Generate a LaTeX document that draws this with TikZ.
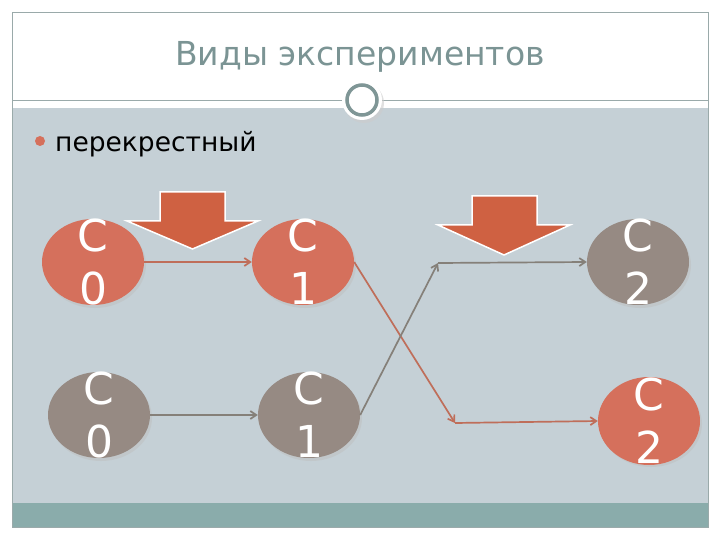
\documentclass[tikz,border=0pt]{standalone}
\usepackage{fontspec}
\setmainfont{DejaVu Sans}
\usetikzlibrary{shapes.geometric,arrows.meta}
\definecolor{orEll}{HTML}{D5705C}
\definecolor{grEll}{HTML}{968A83}
\definecolor{blk}{HTML}{CF6142}
\definecolor{orLine}{HTML}{BF6E5A}
\definecolor{grLine}{HTML}{858079}
\definecolor{panel}{HTML}{C5D0D6}
\definecolor{teal}{HTML}{8AACAB}
\definecolor{titlec}{HTML}{7B9494}
\definecolor{framec}{HTML}{9AAAAA}
\definecolor{ringc}{HTML}{7F9696}
\tikzset{
  cnode/.style={ellipse, minimum width=102pt, minimum height=86pt, inner sep=0pt},
  clabel/.style={text=white, font=\fontsize{44}{53}\selectfont, align=center, inner sep=0pt},
  oline/.style={draw=orLine, line width=1.7pt, -{Straight Barb[length=6pt,width=8pt]}},
  gline/.style={draw=grLine, line width=1.7pt, -{Straight Barb[length=6pt,width=8pt]}},
  blockarrow/.style={fill=blk, draw=white, line width=1.5pt, line join=miter},
  shadowed/.style={fill=black!25, opacity=0.5}
}
\begin{document}
\begin{tikzpicture}[x=1pt,y=-1pt]
\useasboundingbox (0,0) rectangle (720,540);
\fill[white] (0,0) rectangle (720,540);
% panel and bottom bar
\fill[panel] (12,108) rectangle (708,503);
\fill[teal] (12,503) rectangle (708,527);
% frame
\draw[framec, line width=0.8pt] (12,12) rectangle (708,527);
\draw[framec, line width=0.8pt] (12,100) -- (708,100);
% title
\node[text=titlec, font=\fontsize{33}{40}\selectfont] (title) at (360,57) {Виды экспериментов};
% ring
\fill[black!20, opacity=0.6] (364,103) circle (20);
\fill[white] (362,100) circle (20);
\draw[ringc, line width=3.5pt, fill=white] (362,100) circle (15);
% bullet
\fill[orEll] (40,141) circle (5);
\node[anchor=base west, font=\fontsize{26.5}{32}\selectfont, inner sep=0pt] (item) at (55,152) {перекрестный};
% block arrows
\draw[blockarrow] (160,192) -- (225,192) -- (225,221) -- (258,221) -- (192.5,249) -- (127,221) -- (160,221) -- cycle;
\draw[blockarrow] (472,196) -- (537,196) -- (537,225) -- (570,225) -- (504,255) -- (438,225) -- (472,225) -- cycle;
% shadows
\foreach \x/\y in {93/262, 303/262, 99/415, 309/415, 638/262, 649/421}{
  \fill[shadowed] (\x+2,\y+3) ellipse (51 and 43);
}
% ellipses
\node[cnode, fill=orEll, label={[clabel]center:C\\0}] (c0a) at (93,262) {};
\node[cnode, fill=orEll, label={[clabel]center:C\\1}] (c1a) at (303,262) {};
\node[cnode, fill=grEll, label={[clabel]center:C\\0}] (c0b) at (99,415) {};
\node[cnode, fill=grEll, label={[clabel]center:C\\1}] (c1b) at (309,415) {};
\node[cnode, fill=grEll, label={[clabel]center:C\\2}] (c2a) at (638,262) {};
\node[cnode, minimum height=88pt, fill=orEll, label={[clabel]center:C\\2}] (c2b) at (649,421) {};
% bend points
\coordinate (m1) at (455,423);
\coordinate (m2) at (438,263);
% connectors
\draw[oline] (c0a.east) -- (c1a.west);
\draw[gline] (c0b.east) -- (c1b.west);
\draw[oline] (c1a.east) -- (m1);
\draw[oline] (m1) -- (c2b.west);
\draw[gline] (c1b.east) -- (m2);
\draw[gline] (m2) -- (c2a.west);
\end{tikzpicture}
\end{document}
